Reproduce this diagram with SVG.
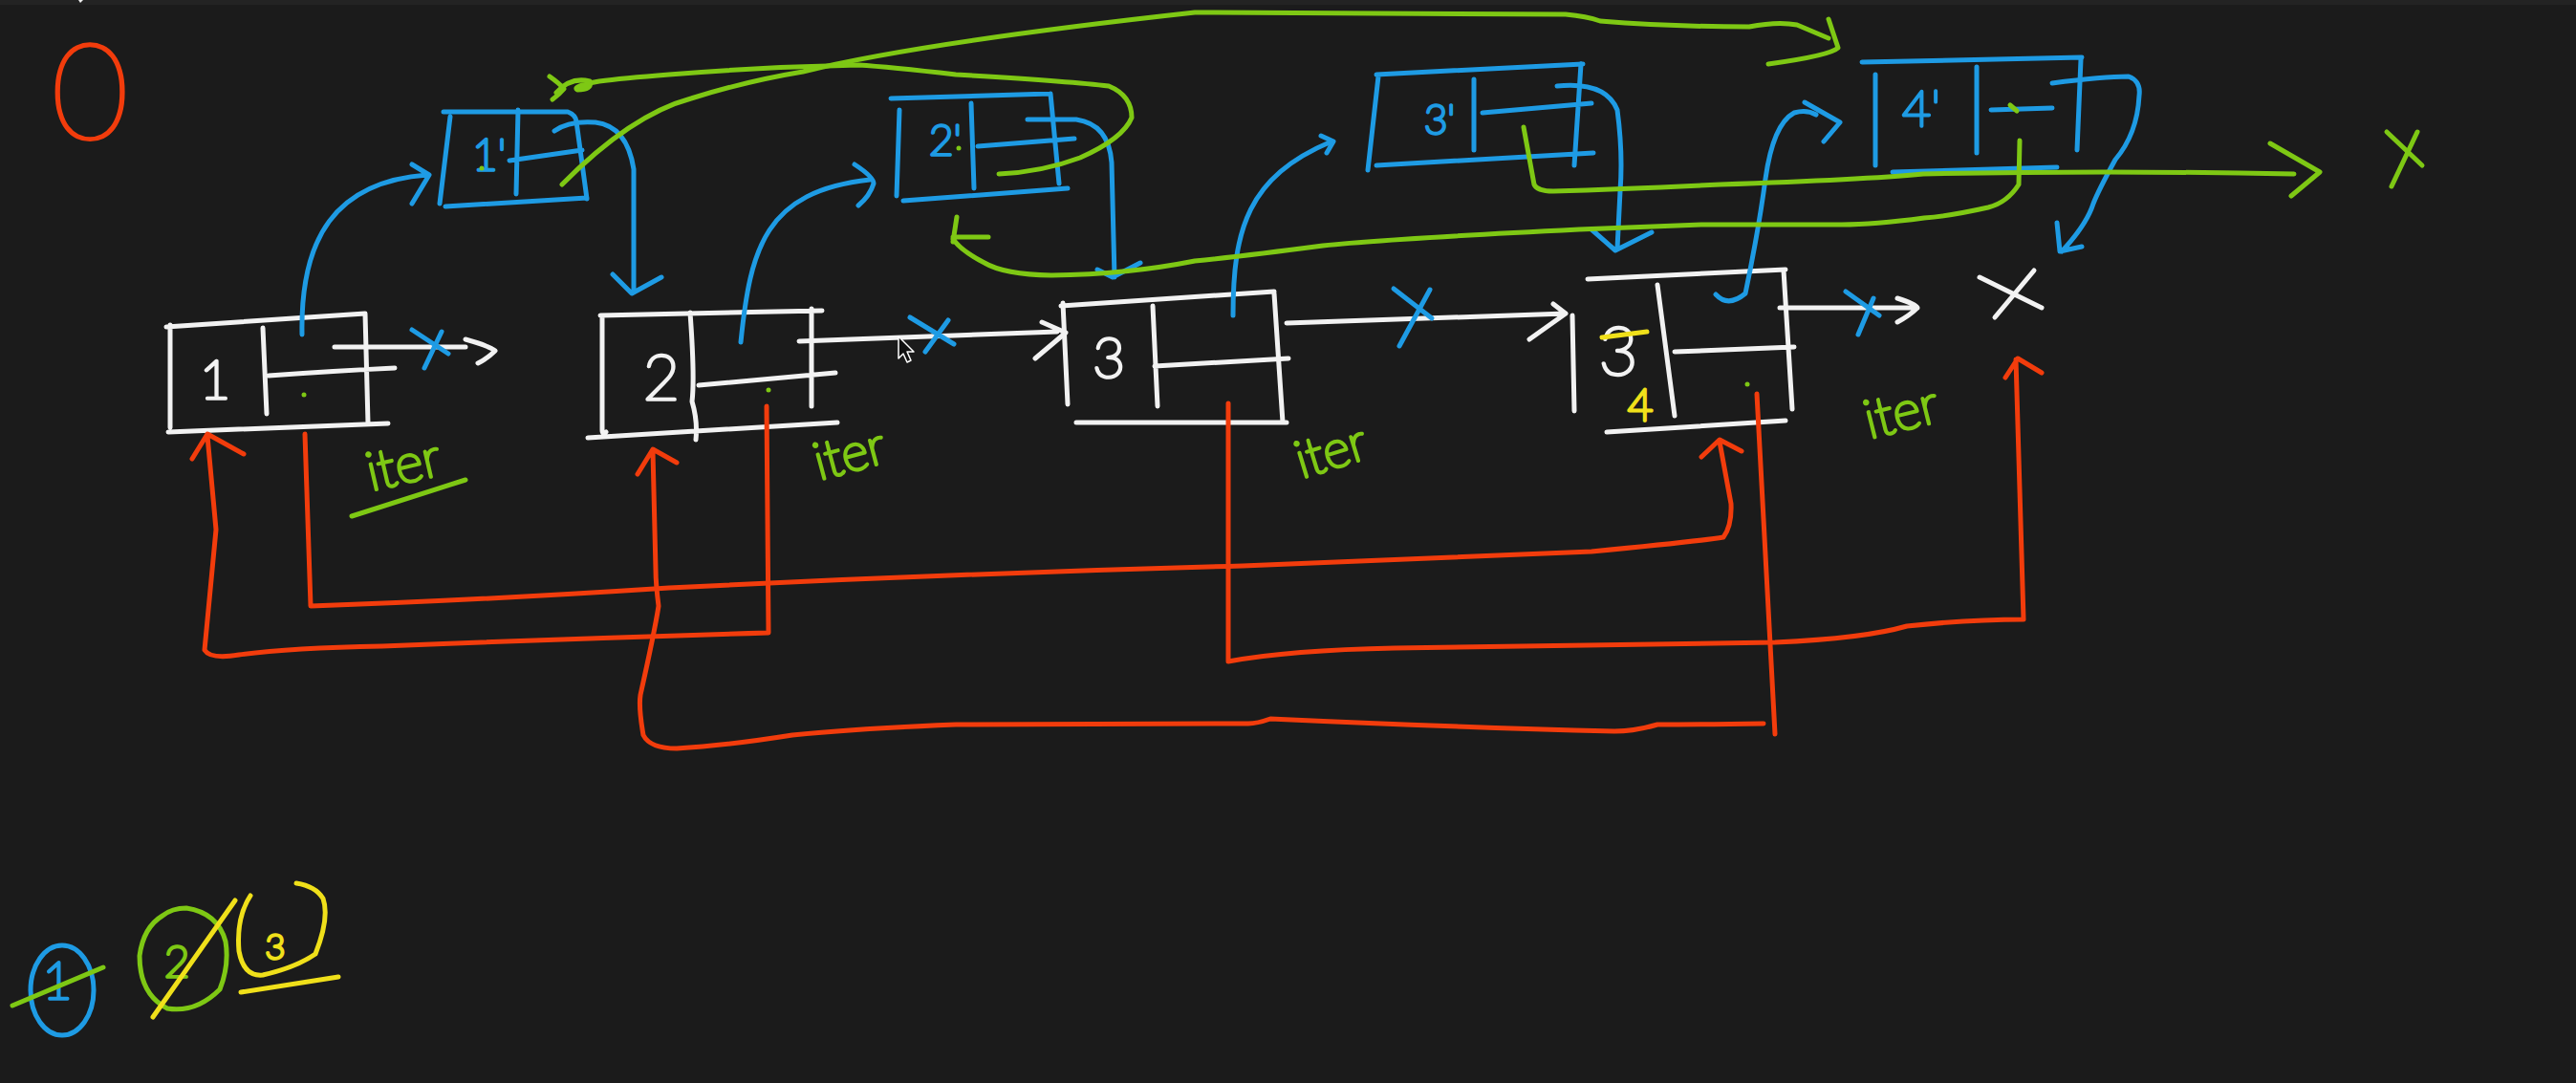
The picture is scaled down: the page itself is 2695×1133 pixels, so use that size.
<svg xmlns="http://www.w3.org/2000/svg" width="2695" height="1133" viewBox="0 0 2695 1133">
  <style>
    .s { fill: none; stroke-width: 5; stroke-linecap: round; stroke-linejoin: round; }
    .w { stroke: #f2f2f2; }
    .b { stroke: #1e9be4; }
    .g { stroke: #7ec814; }
    .r { stroke: #f23c0c; }
    .y { stroke: #f0e01a; }
    .t { font-family: Lato, "Liberation Sans", sans-serif; font-weight: 100; stroke-width: 3.5; stroke-linejoin: round; }
    .tw { fill: #f2f2f2; stroke: #f2f2f2; }
    .tb { fill: #1e9be4; stroke: #1e9be4; }
    .tg { fill: #7ec814; stroke: #7ec814; }
    .tr { fill: #f23c0c; stroke: #f23c0c; }
    .ty { fill: #f0e01a; stroke: #f0e01a; }
  </style>
  <rect width="2695" height="1133" fill="#1b1b1b"/>
  <rect width="2695" height="5" fill="#232323"/>
  <path d="M82,0 L87,0 L84,3 Z" fill="#eeeeee"/>

  <!-- step marker -->
  <text id="step0" class="t tr" x="94" y="146" font-size="140" text-anchor="middle">0</text>

  <!-- original list -->
  <g id="node1">
    <path class="s w" d="M174,342 L382,328 M178,340 L178,447 M176,452 L406,443 M382,328 L385,443 M275,343 L279,433 M281,393 Q350,388 413,385"/>
    <text class="t tw" x="225" y="417" font-size="56" text-anchor="middle">1</text>
    <circle cx="318" cy="413" r="2.5" fill="#7ec814"/>
  </g>
  <g id="node2">
    <path class="s w" d="M628,330 L860,325 M630,332 L630,450 Q630,455 634,452 M615,458 L876,442 M849,323 L849,425 M722,327 Q727,395 724,420 Q730,440 728,460 M731,403 L874,390"/>
    <text class="t tw" x="692" y="418" font-size="66" text-anchor="middle">2</text>
    <circle cx="804" cy="408" r="2.5" fill="#7ec814"/>
  </g>
  <g id="node3">
    <path class="s w" d="M1110,320 L1333,305 M1112,317 L1117,423 M1206,320 L1211,425 M1208,383 L1348,375 M1333,307 L1342,442 M1126,442 L1346,442"/>
    <text class="t tw" x="1160" y="395" font-size="58" text-anchor="middle">3</text>
  </g>
  <g id="node4">
    <path class="s w" d="M1645,330 L1647,430 M1661,292 L1868,282 M1866,283 L1875,428 M1734,298 L1752,435 M1752,368 L1877,363 M1681,452 L1868,440"/>
    <text class="t tw" x="1693" y="392" font-size="70" text-anchor="middle">3</text>
    <path class="s y" d="M1676,353 L1723,347"/>
    <text class="t ty" x="1716" y="440" font-size="46" text-anchor="middle">4</text>
    <circle cx="1828" cy="402" r="2.5" fill="#7ec814"/>
  </g>
  <g id="null-end">
    <path class="s w" d="M2071,290 L2136,322 M2128,283 L2087,332"/>
  </g>

  <!-- copied nodes -->
  <g id="copy1">
    <path class="s b" d="M464,117 L594,117 Q602,120 603,127 L614,208 M471,122 L460,213 M466,216 L614,207 M542,115 L540,203 M533,168 L609,157"/>
    <text class="t tb" x="494" y="178" font-size="46">1'</text>
    <circle cx="504" cy="176" r="2.5" fill="#7ec814"/>
  </g>
  <g id="copy2">
    <path class="s b" d="M932,103 L1099,98 M941,115 L938,205 M945,210 L1117,197 M1099,98 L1108,192 M1016,108 L1019,197 M1023,153 L1124,145"/>
    <text class="t tb" x="972" y="162" font-size="44">2'</text>
    <circle cx="1003" cy="155" r="2.5" fill="#7ec814"/>
  </g>
  <g id="copy3">
    <path class="s b" d="M1440,78 L1656,67 M1442,80 L1431,178 M1440,173 L1667,160 M1654,67 L1647,173 M1542,83 L1542,157 M1551,118 L1665,108"/>
    <text class="t tb" x="1490" y="140" font-size="42">3'</text>
  </g>
  <g id="copy4">
    <path class="s b" d="M1948,65 L2178,60 M1962,78 L1962,173 M2068,70 L2068,160 M2177,62 L2173,157 M2083,115 L2147,113 M1980,180 L2152,175"/>
    <text class="t tb" x="1990" y="132" font-size="52">4'</text>
    <path class="s g" d="M2103,110 L2110,116"/>
  </g>

  <!-- labels -->
  <g id="labels">
    <text class="t tg" x="424" y="505" font-size="56" text-anchor="middle" transform="rotate(-13 424 495)">iter</text>
    <path class="s g" stroke-width="7" d="M368,540 L487,502"/>
    <text class="t tg" x="890" y="493" font-size="54" text-anchor="middle" transform="rotate(-15 890 480)">iter</text>
    <text class="t tg" x="1394" y="490" font-size="54" text-anchor="middle" transform="rotate(-17 1394 477)">iter</text>
    <text class="t tg" x="1990" y="450" font-size="56" text-anchor="middle" transform="rotate(-14 1990 435)">iter</text>
  </g>

  <g id="connectors">
    <!-- white next links -->
    <path class="s w" d="M350,363 L487,363 M487,355 Q512,362 518,367 Q510,375 500,380"/>
    <path class="s w" d="M836,357 L1106,347 M1090,337 L1115,348 L1083,375"/>
    <path class="s w" d="M1346,338 L1638,328 M1625,318 L1638,328 L1600,355"/>
    <path class="s w" d="M1862,322 L2006,322 M1985,312 Q2004,318 2006,322 Q1998,330 1985,337"/>
    <!-- blue crosses on cut links -->
    <path class="s b" d="M431,345 L469,370 M462,347 L444,385"/>
    <path class="s b" d="M952,332 L998,360 M992,335 L968,368"/>
    <path class="s b" d="M1458,302 L1498,333 M1496,303 L1464,362"/>
    <path class="s b" d="M1931,305 L1966,330 M1960,312 L1944,350"/>
    <!-- blue: original to copy -->
    <path class="s b" d="M316,350 C314,250 350,190 447,183 M431,172 L449,183 L431,213"/>
    <path class="s b" d="M775,358 C785,260 800,200 910,188 M894,172 Q914,185 914,192 Q910,205 898,215"/>
    <path class="s b" d="M1290,330 C1290,240 1305,185 1393,148 M1382,142 L1395,148 L1388,160"/>
    <path class="s b" d="M1795,308 Q1808,322 1826,307 Q1840,240 1847,187 Q1855,130 1877,118 Q1890,114 1900,120 M1888,107 L1925,128 L1908,148"/>
    <!-- blue: copy to next original -->
    <path class="s b" d="M580,137 Q595,126 623,128 Q656,132 663,177 L663,305 M641,287 L661,307 L692,290"/>
    <path class="s b" d="M1075,125 L1126,125 Q1160,130 1163,170 L1166,290 M1148,282 L1164,290 L1193,275"/>
    <path class="s b" d="M1629,90 Q1680,85 1692,115 Q1698,160 1695,200 L1692,260 M1665,240 L1690,262 L1728,243"/>
    <path class="s b" d="M2147,87 Q2200,80 2227,80 Q2240,85 2238,100 Q2236,140 2213,167 Q2195,200 2190,213 Q2183,235 2157,263 M2152,233 L2155,263 L2178,258"/>
    <!-- green: random links -->
    <path class="s g" d="M588,193 Q660,120 723,103 Q780,85 840,75 Q960,45 1250,13 L1638,15 Q1660,17 1674,22 Q1750,28 1830,28 Q1860,22 1880,26 L1913,40 M1913,20 L1923,50 Q1915,58 1850,67"/>
    <path class="s g" d="M575,80 Q585,87 590,93 Q585,99 578,104 M582,97 Q597,80 617,85 Q620,94 604,94 Q598,90 627,85 Q650,82 700,78 Q800,70 898,68 Q930,70 1000,78 Q1120,85 1160,90 Q1184,100 1184,123 Q1175,145 1130,165 Q1090,180 1045,182"/>
    <path class="s g" d="M2113,147 L2112,193 Q2100,212 2080,217 Q2040,226 2013,228 Q1960,235 1927,235 L1780,235 Q1700,238 1652,240 Q1450,250 1384,257 Q1300,268 1250,273 Q1180,287 1100,288 Q1050,287 1030,275 Q1005,262 997,250 M1001,227 L997,253 M997,248 L1034,248"/>
    <path class="s g" d="M1594,133 L1605,193 Q1608,200 1625,200 Q1700,198 1800,193 Q1950,188 2012,182 Q2200,178 2400,182 M2375,150 L2427,180 L2397,205"/>
    <path class="s g" d="M2497,138 L2534,173 M2529,138 L2502,195"/>
    <!-- red: pointer moves -->
    <path class="s r" d="M319,454 L325,634 Q500,628 700,615 Q1000,600 1300,592 Q1600,580 1665,577 Q1780,566 1803,562 Q1812,550 1811,527 L1799,462 M1780,478 L1799,460 L1822,472"/>
    <path class="s r" d="M802,425 L804,662 Q600,668 400,676 Q300,678 250,685 Q220,690 214,680 L226,554 L217,456 M201,480 L217,454 L255,475"/>
    <path class="s r" d="M1285,422 L1285,692 Q1350,680 1459,678 Q1700,675 1857,672 Q1950,668 1995,655 Q2060,648 2117,648 L2109,376 M2098,395 L2111,375 L2136,390"/>
    <path class="s r" d="M1838,412 L1857,768 M1845,757 Q1780,758 1734,758 Q1710,765 1689,765 Q1500,760 1329,752 Q1315,757 1306,757 L1000,758 Q900,762 829,769 Q760,780 708,783 Q680,783 673,769 Q668,740 670,727 Q685,660 689,634 Q686,610 686,596 L683,472 M667,496 L683,470 L708,484"/>
  </g>

  <!-- mouse pointer -->
  <path d="M940,352 L940,375 L945,370 L949,379 L953,377 L949,368 L956,368 Z" fill="#111111" stroke="#ffffff" stroke-width="1.5" stroke-linejoin="round"/>

  <!-- numbered options -->
  <g id="option1">
    <ellipse class="s b" cx="65" cy="1036" rx="33" ry="47"/>
    <text class="t tb" x="60" y="1045" font-size="54" text-anchor="middle">1</text>
    <path class="s g" d="M13,1052 L108,1012"/>
  </g>
  <g id="option2">
    <path class="s g" d="M170,958 Q150,970 146,1000 Q146,1040 175,1055 Q205,1060 230,1035 Q240,1010 236,985 Q228,955 195,950 Q180,950 170,958"/>
    <text class="t tg" x="185" y="1022" font-size="46" text-anchor="middle">2</text>
    <path class="s y" d="M246,942 L160,1064"/>
  </g>
  <g id="option3">
    <path class="s y" d="M262,937 Q247,960 250,995 Q255,1022 275,1020 Q310,1012 330,998 Q345,960 338,940 Q330,927 310,924"/>
    <text class="t ty" x="288" y="1003" font-size="36" text-anchor="middle">3</text>
    <path class="s y" d="M252,1038 L354,1022"/>
  </g>
</svg>
